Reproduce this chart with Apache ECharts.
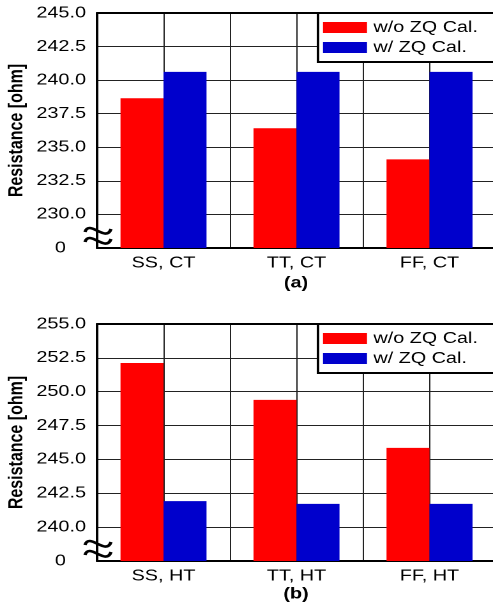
<!DOCTYPE html>
<html><head><meta charset="utf-8">
<script src="https://cdn.jsdelivr.net/npm/echarts@6/dist/echarts.min.js"></script>
<style>
html,body{margin:0;padding:0;background:#fff;overflow:hidden;}
#c{width:386px;height:608px;transform:scaleX(1.2772);transform-origin:0 0;}
</style>
</head><body><div id="c"></div>
<script>
const categoriesA = ['SS, CT', 'TT, CT', 'FF, CT'];
const categoriesB = ['SS, HT', 'TT, HT', 'FF, HT'];
const seriesNames = ['w/o ZQ Cal.', 'w/ ZQ Cal.'];
const withoutZQ_A = [238.65, 236.42, 234.1];
const withZQ_A = [240.62, 240.62, 240.62];
const withoutZQ_B = [252.12, 249.4, 245.85];
const withZQ_B = [241.92, 241.72, 241.72];
// broken axis: the bottom tick (one step below the first real tick) is labelled "0"
const yRangeA = [227.5, 245.0];
const yRangeB = [237.5, 255.0];
const yStep = 2.5;
const panelLabels = ['(a)', '(b)'];

// the original figure is horizontally stretched; draw in a narrower box and stretch it
const SX = 493 / 386;
const X = v => v / SX;

const FONT = '"Liberation Sans", Arial, sans-serif';
const FS = 15.5;
const RED = '#ff0000', BLUE = '#0000cc';

function yAxis(grid, range) {
  return {
    type: 'value', gridIndex: grid, min: range[0], max: range[1], interval: yStep,
    name: 'Resistance [ohm]', nameLocation: 'middle', nameGap: 55, nameMoveOverlap: false,
    nameTextStyle: { fontFamily: FONT, fontSize: 16, fontWeight: 'bold', color: '#000' },
    axisLine: { show: true, lineStyle: { color: '#000', width: 2 } },
    axisTick: { show: false },
    axisLabel: { fontFamily: FONT, fontSize: FS, color: '#000', margin: X(11),
      formatter: v => (Math.abs(v - range[0]) < 1e-6 ? '{z|0}' : v.toFixed(1)),
      rich: { z: { fontFamily: FONT, fontSize: FS, color: '#000', padding: [0, X(20), 0, 0] } } },
    splitLine: { show: true, lineStyle: { color: '#222', width: 1 } }
  };
}
function catAxis(grid, cats) {
  return {
    type: 'category', gridIndex: grid, data: cats, position: 'bottom',
    axisLine: { show: true, lineStyle: { color: '#000', width: 2 } },
    axisTick: { show: false },
    axisLabel: { fontFamily: FONT, fontSize: FS, color: '#000', margin: 7 },
    splitLine: { show: false }
  };
}
function lineAxis(grid) {
  return {
    type: 'value', gridIndex: grid, min: 0, max: 6, interval: 1, position: 'top',
    axisLine: { show: true, lineStyle: { color: '#000', width: 2 } },
    axisTick: { show: false }, axisLabel: { show: false },
    splitLine: { show: true, lineStyle: { color: '#222', width: 1 } }
  };
}
function legend(top) {
  return {
    data: seriesNames, orient: 'vertical', left: X(318), top: top,
    backgroundColor: '#fff', borderColor: '#000', borderWidth: 2,
    padding: [6, 20, 6, X(5)], itemWidth: X(44), itemHeight: 11, itemGap: 3, itemTextGap: X(4),
    icon: 'rect',
    textStyle: { fontFamily: FONT, fontSize: FS, color: '#000', lineHeight: 17 },
    selectedMode: false
  };
}
function bar(name, x, y, data, color) {
  return { type: 'bar', name: name, xAxisIndex: x, yAxisIndex: y, data: data,
    barWidth: X(43), barGap: '0%', itemStyle: { color: color }, silent: true, animation: false };
}
function tilde(y) {
  return { type: 'bezierCurve', z: 100,
    shape: { x1: X(85), y1: y + 2, cpx1: X(89), cpy1: y - 11, cpx2: X(106), cpy2: y + 13, x2: X(111), y2: y - 1 },
    style: { fill: null, stroke: '#000', lineWidth: 2.6 } };
}
function squiggle(yBase) { return [tilde(yBase), tilde(yBase + 10)]; }

const chart = echarts.init(document.getElementById('c'), null, { renderer: 'canvas', devicePixelRatio: 2 });
chart.setOption({
  animation: false,
  backgroundColor: '#fff',
  grid: [
    { left: X(97), top: 13, right: 386 - X(496), height: 235, containLabel: false, outerBoundsMode: 'none' },
    { left: X(97), top: 324, right: 386 - X(496), height: 237, containLabel: false, outerBoundsMode: 'none' }
  ],
  legend: [legend(13), legend(324)],
  xAxis: [catAxis(0, categoriesA), lineAxis(0), catAxis(1, categoriesB), lineAxis(1)],
  yAxis: [yAxis(0, yRangeA), yAxis(1, yRangeB)],
  series: [
    bar(seriesNames[0], 0, 0, withoutZQ_A, RED),
    bar(seriesNames[1], 0, 0, withZQ_A, BLUE),
    bar(seriesNames[0], 2, 1, withoutZQ_B, RED),
    bar(seriesNames[1], 2, 1, withZQ_B, BLUE)
  ],
  graphic: [
    ...squiggle(230),
    ...squiggle(543),
    { type: 'text', x: X(296), y: 275, style: { text: panelLabels[0], font: 'bold 15.5px ' + FONT, fill: '#000', align: 'center' } },
    { type: 'text', x: X(296), y: 586, style: { text: panelLabels[1], font: 'bold 15.5px ' + FONT, fill: '#000', align: 'center' } }
  ]
});
</script></body></html>
